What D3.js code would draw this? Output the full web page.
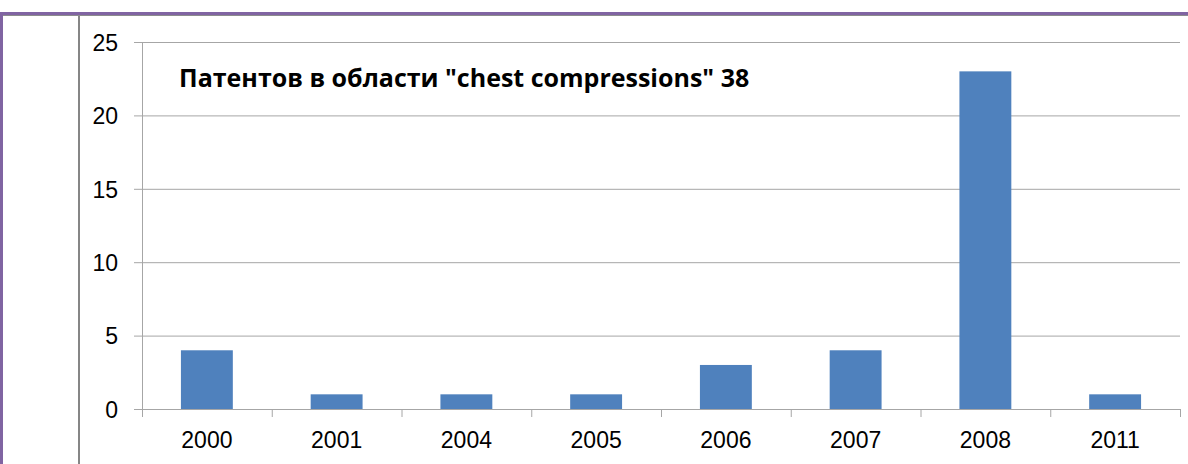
<!DOCTYPE html>
<html>
<head>
<meta charset="utf-8">
<script src="https://cdn.jsdelivr.net/npm/d3@7"></script>
<style>
  body { margin: 0; background: #fff; }
  svg { display: block; }
</style>
</head>
<body>
<svg></svg>
<script>
let years = ['2000', '2001', '2004', '2005', '2006', '2007', '2008', '2011']
let counts = [4, 1, 1, 1, 3, 4, 23, 1]
let yTicks = [0, 5, 10, 15, 20, 25]
let title = 'Патентов в области "chest compressions" 38'

let width = 1188
let height = 464
let plotLeft = 142
let plotRight = 1180
let plotTop = 42
let plotBottom = 409

let svg = d3.select('svg')
  .attr('width', width)
  .attr('height', height)
  .style('font-family', '"Open Sans", "Noto Sans", sans-serif')

let xScale = d3.scaleBand()
  .domain(years)
  .range([plotLeft, plotRight])
  .paddingInner(0.6)
  .paddingOuter(0.3)

let bandScale = d3.scaleBand()
  .domain(years)
  .range([plotLeft, plotRight])

let yScale = d3.scaleLinear()
  .domain([0, 25])
  .range([plotBottom, plotTop])

// frame lines of the slide
svg.append('line')
  .attr('x1', 0).attr('x2', width)
  .attr('y1', 15.5).attr('y2', 15.5)
  .attr('stroke', '#8c8c8c').attr('stroke-width', 1)
svg.append('line')
  .attr('x1', 0).attr('x2', width)
  .attr('y1', 13.5).attr('y2', 13.5)
  .attr('stroke', '#8064a2').attr('stroke-width', 3)
svg.append('line')
  .attr('x1', 1.5).attr('x2', 1.5)
  .attr('y1', 12).attr('y2', height)
  .attr('stroke', '#8064a2').attr('stroke-width', 3)
svg.append('line')
  .attr('x1', 79).attr('x2', 79)
  .attr('y1', 16).attr('y2', height)
  .attr('stroke', '#868686').attr('stroke-width', 2)

// gridlines + y axis
let yAxis = d3.axisLeft(yScale)
  .tickValues(yTicks)
  .tickSize(-(plotRight - plotLeft))
  .tickPadding(0)

let gy = svg.append('g')
  .attr('transform', 'translate(' + plotLeft + ',0)')
  .call(yAxis)
gy.select('.domain').remove()
gy.selectAll('.tick line')
  .attr('x1', -8)
  .attr('stroke', '#a6a6a6')
gy.selectAll('.tick text')
  .attr('x', -24)
  .attr('dy', '0.36em')
  .style('font-size', '23px')
  .attr('fill', '#000')

svg.append('line')
  .attr('x1', plotLeft + 0.5).attr('x2', plotLeft + 0.5)
  .attr('y1', plotTop).attr('y2', plotBottom)
  .attr('stroke', '#a6a6a6')

// bars
svg.selectAll('rect.bar')
  .data(counts)
  .enter()
  .append('rect')
  .attr('class', 'bar')
  .attr('x', (d, i) => xScale(years[i]))
  .attr('width', xScale.bandwidth())
  .attr('y', (d) => yScale(d))
  .attr('height', (d) => yScale(0) - yScale(d))
  .attr('fill', '#4f81bd')

// x axis
let xAxis = d3.axisBottom(bandScale).tickSize(0).tickPadding(0)
let gx = svg.append('g')
  .attr('transform', 'translate(0,' + plotBottom + ')')
  .call(xAxis)
gx.select('.domain').remove()
gx.selectAll('.tick text')
  .attr('y', 39)
  .attr('dy', 0)
  .style('font-size', '23px')
  .attr('fill', '#000')

svg.append('line')
  .attr('x1', plotLeft).attr('x2', plotRight)
  .attr('y1', plotBottom + 0.5).attr('y2', plotBottom + 0.5)
  .attr('stroke', '#a6a6a6')

svg.selectAll('line.xtick')
  .data(years.concat(['end']))
  .enter()
  .append('line')
  .attr('class', 'xtick')
  .attr('x1', (d, i) => (i < years.length ? bandScale(d) : plotRight) + 0.5)
  .attr('x2', (d, i) => (i < years.length ? bandScale(d) : plotRight) + 0.5)
  .attr('y1', plotBottom)
  .attr('y2', plotBottom + 8)
  .attr('stroke', '#a6a6a6')

// title inside plot
svg.append('text')
  .attr('x', 179)
  .attr('y', 87)
  .style('font-size', '25px')
  .style('font-weight', 'bold')
  .attr('fill', '#000')
  .text(title)
</script>
</body>
</html>
